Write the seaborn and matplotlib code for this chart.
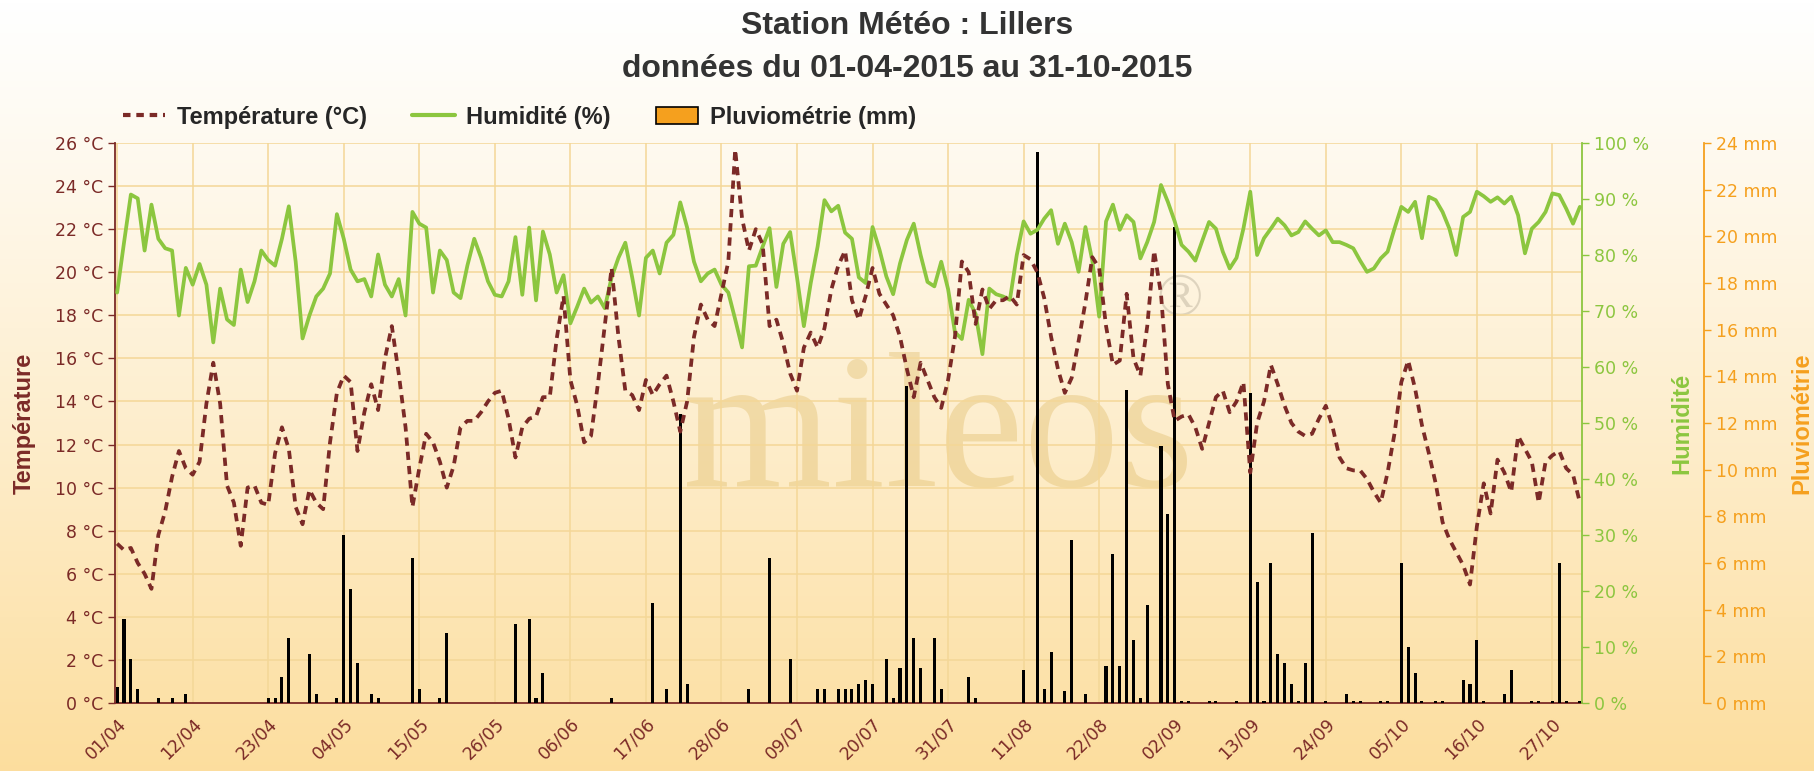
import numpy as np
import pandas as pd
import seaborn as sns
import matplotlib.pyplot as plt
from matplotlib.lines import Line2D
from matplotlib.patches import Patch
from matplotlib.ticker import FuncFormatter, MultipleLocator

# -------- daily data, 01/04/2015 -> 31/10/2015 --------
temperature = [
    7.4, 7.1, 7.2, 6.5, 6.0, 5.3, 7.8, 8.9, 10.5, 11.7,
    10.9, 10.6, 11.2, 13.9, 15.8, 13.9, 10.1, 9.3, 7.3, 10.0,
    10.1, 9.3, 9.2, 11.6, 12.8, 11.8, 9.1, 8.3, 9.9, 9.3,
    9.0, 12.1, 14.4, 15.2, 14.9, 11.7, 13.5, 14.8, 13.6, 16.0,
    17.5, 15.3, 12.8, 9.1, 10.9, 12.5, 12.1, 11.2, 10.0, 11.0,
    12.8, 13.1, 13.1, 13.5, 14.0, 14.4, 14.5, 13.2, 11.4, 12.8,
    13.2, 13.3, 14.2, 14.2, 16.9, 18.9, 15.0, 13.8, 12.1, 12.4,
    14.8, 17.5, 20.2, 17.0, 14.5, 14.3, 13.6, 15.0, 14.3, 14.8,
    15.2, 14.0, 12.6, 14.0, 17.0, 18.5, 17.8, 17.5, 19.0, 20.5,
    25.7, 22.5, 21.0, 22.0, 21.3, 17.5, 17.8, 16.7, 15.3, 14.5,
    16.5, 17.2, 16.5, 17.4, 19.2, 20.3, 21.0, 18.7, 17.8, 18.9,
    20.2, 19.0, 18.5, 18.0, 17.0, 15.5, 14.2, 15.8, 15.0, 14.2,
    13.7, 15.0, 17.0, 20.5, 20.0, 17.6, 19.2, 18.3, 18.7, 18.7,
    18.9, 18.5, 20.8, 20.6, 20.0, 18.8, 17.0, 15.5, 14.4, 15.1,
    16.8, 18.6, 20.7, 20.2, 17.5, 15.7, 15.9, 19.0, 16.0, 15.2,
    17.5, 21.0, 19.0, 14.8, 13.1, 13.3, 13.4, 12.8, 11.8, 13.0,
    14.2, 14.5, 13.5, 14.0, 14.9, 10.7, 13.0, 14.0, 15.7, 14.8,
    13.8, 13.0, 12.6, 12.4, 12.5, 13.2, 13.8, 12.8, 11.4, 10.9,
    10.8, 10.8, 10.4, 9.8, 9.3, 10.7, 12.5, 14.9, 15.9, 14.6,
    12.9, 11.6, 10.2, 8.4, 7.6, 7.0, 6.4, 5.5, 8.2, 10.2,
    8.8, 11.3, 10.7, 9.8, 12.4, 11.8, 11.2, 9.3, 11.2, 11.5,
    11.7, 10.9, 10.6, 9.3,
]

humidity = [
    73.3, 82.2, 90.8, 90.1, 80.8, 89.0, 82.9, 81.2, 80.8, 69.2,
    77.7, 74.7, 78.4, 74.7, 64.4, 74.0, 68.5, 67.5, 77.4, 71.6,
    75.3, 80.8, 79.1, 78.1, 82.9, 88.7, 78.8, 65.1, 69.2, 72.6,
    74.0, 76.7, 87.3, 82.9, 77.4, 75.3, 75.7, 72.6, 80.1, 74.7,
    72.6, 75.7, 69.2, 87.7, 85.6, 84.9, 73.3, 80.8, 79.1, 73.3,
    72.3, 78.1, 82.9, 79.5, 75.3, 72.9, 72.6, 75.3, 83.2, 72.9,
    84.9, 71.9, 84.2, 80.1, 73.3, 76.4, 67.8, 70.8, 74.0, 71.5,
    72.6, 70.5, 76.0, 79.5, 82.2, 76.0, 69.2, 79.5, 80.8, 76.7,
    82.2, 83.6, 89.4, 84.9, 78.8, 75.3, 76.7, 77.4, 74.7, 73.3,
    68.5, 63.5, 78.0, 78.1, 81.5, 84.8, 74.3, 82.0, 84.1, 76.0,
    67.3, 75.0, 81.5, 89.8, 87.8, 88.8, 84.0, 82.9, 76.0, 75.0,
    85.0, 81.0, 76.2, 73.0, 78.5, 82.7, 85.6, 80.0, 75.2, 74.4,
    78.8, 73.9, 66.2, 65.0, 72.0, 69.5, 62.3, 74.0, 73.0, 72.6,
    72.0, 80.0, 86.0, 83.8, 84.5, 86.5, 88.0, 82.0, 85.6, 82.3,
    77.0, 85.0, 79.0, 69.0, 86.0, 89.0, 84.5, 87.1, 85.9, 79.4,
    82.3, 85.9, 92.5, 89.5, 86.0, 81.8, 80.6, 79.0, 82.5, 85.9,
    84.7, 80.6, 77.6, 79.5, 84.7, 91.3, 80.0, 83.0, 84.7, 86.5,
    85.3, 83.5, 84.1, 86.0, 84.7, 83.5, 84.4, 82.3, 82.3, 81.8,
    81.2, 79.0, 77.0, 77.6, 79.4, 80.6, 84.7, 88.6, 87.7, 89.5,
    83.0, 90.4, 89.8, 87.7, 84.7, 80.0, 86.8, 87.7, 91.3, 90.5,
    89.5, 90.3, 89.2, 90.4, 87.1, 80.3, 84.7, 85.9, 87.7, 91.0,
    90.7, 88.3, 85.6, 88.6,
]

rainfall = [
    0.7, 3.6, 1.9, 0.6, 0, 0, 0.2, 0, 0.2, 0,
    0.4, 0, 0, 0, 0, 0, 0, 0, 0, 0,
    0, 0, 0.2, 0.2, 1.1, 2.8, 0, 0, 2.1, 0.4,
    0, 0, 0.2, 7.2, 4.9, 1.7, 0, 0.4, 0.2, 0,
    0, 0, 0, 6.2, 0.6, 0, 0, 0.2, 3.0, 0,
    0, 0, 0, 0, 0, 0, 0, 0, 3.4, 0,
    3.6, 0.2, 1.3, 0, 0, 0, 0, 0, 0, 0,
    0, 0, 0.2, 0, 0, 0, 0, 0, 4.3, 0,
    0.6, 0, 12.4, 0.8, 0, 0, 0, 0, 0, 0,
    0, 0, 0.6, 0, 0, 6.2, 0, 0, 1.9, 0,
    0, 0, 0.6, 0.6, 0, 0.6, 0.6, 0.6, 0.8, 1.0,
    0.8, 0, 1.9, 0.2, 1.5, 13.6, 2.8, 1.5, 0, 2.8,
    0.6, 0, 0, 0, 1.1, 0.2, 0, 0, 0, 0,
    0, 0, 1.4, 0, 23.6, 0.6, 2.2, 0, 0.5, 7.0,
    0, 0.4, 0, 0, 1.6, 6.4, 1.6, 13.4, 2.7, 0.2,
    4.2, 0, 11.0, 8.1, 20.4, 0.1, 0.1, 0, 0, 0.1,
    0.1, 0, 0, 0.1, 0, 13.3, 5.2, 0.1, 6.0, 2.1,
    1.7, 0.8, 0.1, 1.7, 7.3, 0, 0.1, 0, 0, 0.4,
    0.1, 0.1, 0, 0, 0.1, 0.1, 0, 6.0, 2.4, 1.3,
    0.1, 0, 0.1, 0.1, 0, 0, 1.0, 0.8, 2.7, 0.1,
    0, 0, 0.4, 1.4, 0, 0, 0.1, 0.1, 0, 0.1,
    6.0, 0.1, 0, 0.1,
]

tick_days = [0, 11, 22, 33, 44, 55, 66, 77, 88, 99,
             110, 121, 132, 143, 154, 165, 176, 187, 198, 209]
tick_labels = ["01/04", "12/04", "23/04", "04/05", "15/05", "26/05", "06/06",
               "17/06", "28/06", "09/07", "20/07", "31/07", "11/08", "22/08",
               "02/09", "13/09", "24/09", "05/10", "16/10", "27/10"]

days = np.arange(len(temperature))
df = pd.DataFrame({"jour": days, "temp": temperature,
                   "hum": humidity, "pluie": rainfall})

RED = "#7b2a27"
GREEN = "#8cc63f"
ORANGE = "#f5a01e"
GRID = "#f4d797"

sns.set_style("white")
plt.rcParams["font.family"] = ["DejaVu Sans"]

fig = plt.figure(figsize=(18.15, 7.71), dpi=100)

# background gradient (white -> light orange)
bg = fig.add_axes([0, 0, 1, 1], zorder=-10)
t = np.linspace(0, 1, 256)[:, None, None]
top_c = np.array([1.0, 1.0, 1.0])
bot_c = np.array([0.99, 0.87, 0.62])
bg.imshow(top_c + (bot_c - top_c) * t ** 1.1, aspect="auto", extent=[0, 1, 0, 1])
bg.axis("off")

# watermark
fig.text(0.517, 0.43, "mileos", fontsize=138, family="Liberation Serif",
         color="#dcb55c", alpha=0.35, ha="center", va="center", zorder=-1)
fig.text(0.650, 0.61, "\u00ae", fontsize=44, family="Liberation Serif",
         color="#b9ae98", alpha=0.45, ha="center", va="center", zorder=-1)

ax = fig.add_axes([0.0634, 0.0882, 0.8082, 0.7263])
ax.patch.set_alpha(0)
ax_r = ax.twinx()
ax_h = ax.twinx()
ax_t = ax.twinx()

# rainfall bars
sns.barplot(data=df, x="jour", y="pluie", ax=ax_r, native_scale=True, orient="x",
            color="black", width=0.45, errorbar=None, saturation=1, linewidth=0)
# humidity
sns.lineplot(data=df, x="jour", y="hum", ax=ax_h, color=GREEN, lw=2.7)
# temperature
sns.lineplot(data=df, x="jour", y="temp", ax=ax_t, color=RED, lw=2.7,
             linestyle=(0, (2.2, 1.6)))

# base axis: temperature scale + grid
ax.set_xlim(-0.3, 213.3)
ax.set_ylim(0, 26)
ax.yaxis.set_major_locator(MultipleLocator(2))
ax.yaxis.set_major_formatter(FuncFormatter(lambda v, p: f"{v:.0f} °C"))
ax.set_xticks(tick_days)
ax.set_xticklabels(tick_labels)
ax.grid(True, color=GRID, lw=1.1)
ax.set_axisbelow(True)
ax.tick_params(axis="both", colors=RED, labelsize=12.5, length=5, width=1)
plt.setp(ax.get_xticklabels(), rotation=45, ha="right", rotation_mode="anchor")
for s in ["top", "right"]:
    ax.spines[s].set_visible(False)
ax.spines["left"].set_color(RED)
ax.spines["bottom"].set_color(RED)
ax.spines["left"].set_linewidth(1.3)
ax.spines["bottom"].set_linewidth(1.3)
ax.set_xlabel("")
ax.set_ylabel("Température", color=RED, fontsize=17, fontweight="bold",
              family="Liberation Sans")
ax.yaxis.set_label_coords(-0.054, 0.5)

# humidity axis
ax_h.set_ylim(0, 100)
ax_h.yaxis.set_major_locator(MultipleLocator(10))
ax_h.yaxis.set_major_formatter(FuncFormatter(lambda v, p: f"{v:.0f} %"))
ax_h.tick_params(axis="y", colors=GREEN, labelsize=12.5, length=5, width=1)
for s in ["top", "left", "bottom"]:
    ax_h.spines[s].set_visible(False)
ax_h.spines["right"].set_color(GREEN)
ax_h.spines["right"].set_linewidth(1.3)
ax_h.set_ylabel("Humidité", color=GREEN, fontsize=17, fontweight="bold",
                family="Liberation Sans")
ax_h.yaxis.set_label_coords(1.060, 0.5)

# rainfall axis
ax_r.set_ylim(0, 24)
ax_r.yaxis.set_major_locator(MultipleLocator(2))
ax_r.yaxis.set_major_formatter(FuncFormatter(lambda v, p: f"{v:.0f} mm"))
ax_r.tick_params(axis="y", colors=ORANGE, labelsize=12.5, length=5, width=1)
for s in ["top", "left", "bottom"]:
    ax_r.spines[s].set_visible(False)
ax_r.spines["right"].set_position(("axes", 1.0832))
ax_r.spines["right"].set_color(ORANGE)
ax_r.spines["right"].set_linewidth(1.3)
ax_r.set_ylabel("Pluviométrie", color=ORANGE, fontsize=17, fontweight="bold",
                family="Liberation Sans")
ax_r.yaxis.set_label_coords(1.142, 0.5)

# temperature line axis (hidden scale)
ax_t.set_ylim(0, 26)
ax_t.set_yticks([])
ax_t.set_ylabel("")
for s in ax_t.spines.values():
    s.set_visible(False)
ax.set_xlim(-0.3, 213.3)

# titles
fig.text(0.5, 0.966, "Station Météo : Lillers", ha="center", va="center",
         fontsize=23, fontweight="bold", color="#333333", family="Liberation Sans")
fig.text(0.5, 0.911, "données du 01-04-2015 au 31-10-2015", ha="center", va="center",
         fontsize=23, fontweight="bold", color="#333333", family="Liberation Sans")

handles = [Line2D([], [], color=RED, lw=3, linestyle=(0, (1.8, 1.4))),
           Line2D([], [], color=GREEN, lw=3),
           Patch(facecolor=ORANGE, edgecolor="black", lw=1.2)]
labels = ["Température (°C)", "Humidité (%)", "Pluviométrie (mm)"]
fig.legend(handles, labels, loc="center left", bbox_to_anchor=(0.056, 0.848),
           ncol=3, frameon=False, handlelength=1.8, handletextpad=0.5,
           columnspacing=1.9,
           prop={"family": "Liberation Sans", "weight": "bold", "size": 17})

fig.savefig("out.png", dpi=100)
